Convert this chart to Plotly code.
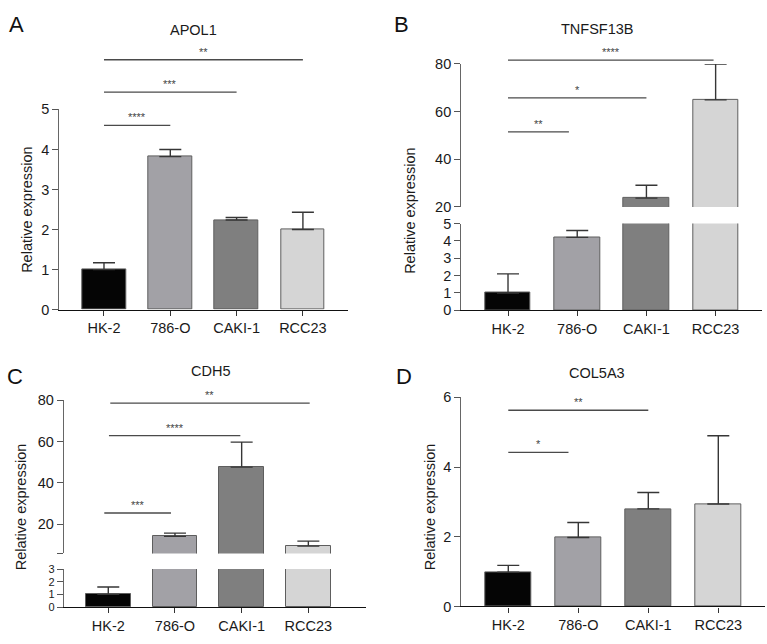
import plotly.graph_objects as go

# ---------------- data ----------------
categories = ["HK-2", "786-O", "CAKI-1", "RCC23"]

apol1_mean = [1.0, 3.82, 2.24, 2.0]
apol1_err = [0.17, 0.18, 0.06, 0.43]
apol1_sig = [(0, 1, 4.6, "****"), (0, 2, 5.43, "***"), (0, 3, 6.24, "**")]

tnfsf13b_mean = [1.0, 4.2, 23.7, 64.9]
tnfsf13b_err = [1.1, 0.4, 5.4, 15.0]
tnfsf13b_sig = [(0, 0.88, 51.5, "**"), (0, 2, 65.7, "*"), (0, 2.97, 81.6, "****")]

cdh5_mean = [1.0, 14.2, 47.6, 9.5]
cdh5_err = [0.58, 1.6, 12.1, 2.4]
cdh5_sig = [(-0.06, 0.94, 25.5, "***"), (0.01, 1.98, 62.8, "****"), (0.03, 3.02, 78.5, "**")]

col5a3_mean = [0.98, 1.98, 2.8, 2.94]
col5a3_err = [0.2, 0.43, 0.47, 1.96]
col5a3_sig = [(0, 0.86, 4.42, "*"), (0, 2, 5.63, "**")]

# ---------------- style ----------------
W, H = 767, 644
FONT = "Liberation Sans, Arial, Helvetica, sans-serif"
bar_colors = ["#050505", "#a2a1a6", "#7f7f7f", "#d5d5d5"]
XPOS = list(range(len(categories)))
TICK_FS = 14.5
TXT = "#1a1a1a"


def fx(p):
    return p / W


def fy(p):
    return 1 - p / H


fig = go.Figure()

panels = [
    dict(key="A", title="APOL1", mean=apol1_mean, err=apol1_err, sig=apol1_sig,
         x="x", xdom=(59.3, 348), xr=(-0.674, 3.68), bw=0.66,
         ys=[("y", (309.3, 104), (0, 5), [0, 1, 2, 3, 4, 5], None, TICK_FS)],
         sigaxis="y7", sigtop=30,
         letter=(16, 17), tpos=(193, 23), ylab=(27, 207)),
    dict(key="B", title="TNFSF13B", mean=tnfsf13b_mean, err=tnfsf13b_err, sig=tnfsf13b_sig,
         x="x2", xdom=(461.3, 762), xr=(-0.675, 3.67), bw=0.655,
         ys=[("y2", (310, 221), (0, 5), [0, 1, 2, 3, 4, 5], None, TICK_FS),
             ("y3", (204, 57.3), (20, 80), [20, 40, 60, 80], None, TICK_FS)],
         sigaxis="y8", sigtop=30,
         letter=(401, 17), tpos=(597, 22), ylab=(410, 207)),
    dict(key="C", title="CDH5", mean=cdh5_mean, err=cdh5_err, sig=cdh5_sig,
         x="x3", xdom=(64, 365.7), xr=(-0.664, 3.86), bw=0.67,
         ys=[("y4", (614.3, 575.3), (0, 3), [0, 1, 2, 3], None, 11),
             ("y5", (559.3, 402), (6, 80), [6, 20, 40, 60, 80], ["", "20", "40", "60", "80"], TICK_FS)],
         sigaxis="y9", sigtop=388,
         letter=(15, 378), tpos=(210, 372), ylab=(21, 512)),
    dict(key="D", title="COL5A3", mean=col5a3_mean, err=col5a3_err, sig=col5a3_sig,
         x="x4", xdom=(461.3, 765), xr=(-0.671, 3.667), bw=0.667,
         ys=[("y6", (613.7, 399.3), (0, 6), [0, 2, 4, 6], None, TICK_FS)],
         sigaxis="y10", sigtop=390,
         letter=(404, 378), tpos=(597, 374), ylab=(430, 512)),
]

layout = dict(
    width=W, height=H, margin=dict(l=0, r=0, t=0, b=0),
    paper_bgcolor="white", plot_bgcolor="rgba(0,0,0,0)", showlegend=False,
    font=dict(family=FONT, size=14, color=TXT),
    bargap=0,
)
annotations = []

for p in panels:
    xname = p["x"]
    xlay = "xaxis" + xname[1:]
    low_y = p["ys"][0][0]
    layout[xlay] = dict(
        domain=[fx(p["xdom"][0]), fx(p["xdom"][1])], range=list(p["xr"]),
        anchor=low_y, tickmode="array", tickvals=XPOS, ticktext=categories,
        showline=True, linecolor="#111", linewidth=1.3,
        ticks="outside", ticklen=5, tickcolor="#333", tickwidth=1.2,
        showgrid=False, zeroline=False, fixedrange=True,
        tickfont=dict(size=TICK_FS, color=TXT),
    )
    for (yname, dom, yr, tv, tt, fs) in p["ys"]:
        ylay = "yaxis" + yname[1:]
        layout[ylay] = dict(
            domain=[fy(dom[0]), fy(dom[1])], range=list(yr), anchor=xname,
            tickmode="array", tickvals=tv,
            ticktext=tt if tt is not None else [str(v) for v in tv],
            showline=True, linecolor="#666", linewidth=1.3,
            ticks="outside", ticklen=6, tickcolor="#555", tickwidth=1.2,
            showgrid=False, zeroline=False, fixedrange=True,
            tickfont=dict(size=fs, color=TXT),
        )
        fig.add_trace(go.Bar(
            x=XPOS, y=p["mean"], width=p["bw"], xaxis=xname, yaxis=yname,
            marker=dict(color=bar_colors, line=dict(color="#5e5e5e", width=1)),
            error_y=dict(type="data", array=p["err"], arrayminus=[0] * len(p["err"]),
                         symmetric=False, color="#363636", thickness=1.4, width=11),
            hoverinfo="skip",
        ))

    # invisible axis sharing the top segment's scale, extended upward for the significance bars
    _, tdom, tr, _, _, _ = p["ys"][-1]
    vpp = (tr[1] - tr[0]) / (tdom[0] - tdom[1])
    sig_top_val = tr[1] + (tdom[1] - p["sigtop"]) * vpp
    sname = p["sigaxis"]
    layout["yaxis" + sname[1:]] = dict(
        domain=[fy(tdom[0]), fy(p["sigtop"])], range=[tr[0], sig_top_val],
        anchor=xname, visible=False, fixedrange=True, showgrid=False, zeroline=False,
    )
    for (a, b, v, lab) in p["sig"]:
        fig.add_trace(go.Scatter(
            x=[a, b], y=[v, v], mode="lines", xaxis=xname, yaxis=sname,
            line=dict(color="#4a4a4a", width=1.3), hoverinfo="skip",
        ))
        annotations.append(dict(
            x=(a + b) / 2, y=v, xref=xname, yref=sname, text=lab, showarrow=False,
            yanchor="bottom", yshift=0, font=dict(size=11, color="#444", family=FONT),
        ))
    annotations.append(dict(
        x=fx(p["tpos"][0]), y=fy(p["tpos"][1]), xref="paper", yref="paper",
        text=p["title"], showarrow=False, xanchor="center", yanchor="middle",
        font=dict(size=14.5, color=TXT, family=FONT),
    ))
    annotations.append(dict(
        x=fx(p["letter"][0]), y=fy(p["letter"][1]), xref="paper", yref="paper",
        text=p["key"], showarrow=False, xanchor="center", yanchor="middle",
        font=dict(size=22, color="#111", family=FONT),
    ))
    annotations.append(dict(
        x=fx(p["ylab"][0]), y=fy(p["ylab"][1]), xref="paper", yref="paper",
        text="Relative expression", showarrow=False, textangle=-90,
        xanchor="center", yanchor="middle",
        font=dict(size=14.5, color=TXT, family=FONT),
    ))

layout["annotations"] = annotations
fig.update_layout(**layout)
fig.write_html("out.html", config={"displayModeBar": False},
               post_script="document.body.style.margin='0px';")
